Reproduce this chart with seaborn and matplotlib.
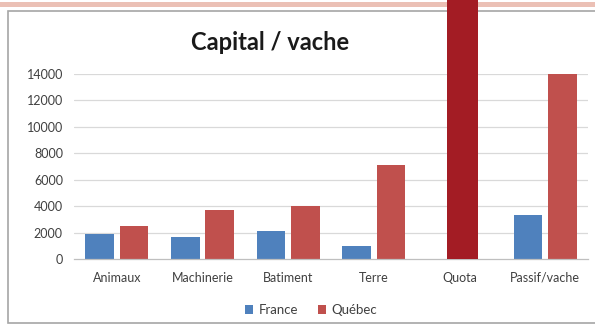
import matplotlib
matplotlib.use("Agg")
import matplotlib.pyplot as plt
from matplotlib.patches import Rectangle, Patch
import seaborn as sns
import pandas as pd

categories = ["Animaux", "Machinerie", "Batiment", "Terre", "Quota", "Passif/vache"]
france = [1900, 1650, 2100, 1000, 0, 3350]
quebec = [2500, 3700, 4000, 7100, 0, 14000]
quota_highlight = 40000  # dark red bar over "Quota", runs off the chart
yticks = [0, 2000, 4000, 6000, 8000, 10000, 12000, 14000]
series = ["France", "Québec"]
colors = {"France": "#4F81BD", "Québec": "#C0504D"}

df = pd.DataFrame({
    "cat": categories * 2,
    "val": france + quebec,
    "serie": ["France"] * len(categories) + ["Québec"] * len(categories),
})

sns.set_theme(style="white")
plt.rcParams["font.family"] = ["Lato", "DejaVu Sans"]

W, H = 595, 328
fig = plt.figure(figsize=(W / 100, H / 100), dpi=100)
fig.patch.set_facecolor("white")

# decorative band + chart frame
fig.patches.append(Rectangle((0, 1 - 7 / H), 1, 5 / H, transform=fig.transFigure,
                             facecolor="#EBC0B5", edgecolor="none", zorder=-2))
fig.patches.append(Rectangle((8 / W, 1 - 323 / H), 1.2, (323 - 11) / H, transform=fig.transFigure,
                             facecolor="white", edgecolor="#A6A6A6", lw=1.2, zorder=-1))

ax = fig.add_axes([74 / W, 69 / H, 514 / W, 185 / H])
ax.set_zorder(1)
ax.patch.set_alpha(0)

sns.barplot(data=df, x="cat", y="val", hue="serie", palette=colors, order=categories,
            hue_order=series, width=0.8, gap=0.17, saturation=1, ax=ax, legend=False,
            errorbar=None)
for p in ax.patches:
    p.set_linewidth(0)
    p.set_edgecolor("none")

# highlighted quota bar
qi = categories.index("Quota")
ax.bar([qi + 0.035], [quota_highlight], width=0.36, color="#A31C24", linewidth=0,
       clip_on=False, zorder=5)

ax.set_xlim(-0.5, len(categories) - 0.5)
ax.set_ylim(0, 14000)
ax.set_yticks(yticks)
ax.set_yticklabels([str(v) for v in yticks])
ax.set_xlabel("")
ax.set_ylabel("")
for v in yticks[1:]:
    ax.axhline(v, color="#D9D9D9", lw=0.9, zorder=0)
for s in ["top", "right", "left"]:
    ax.spines[s].set_visible(False)
ax.spines["bottom"].set_color("#BFBFBF")
ax.spines["bottom"].set_linewidth(0.9)
ax.tick_params(axis="y", length=0, pad=8, labelsize=9, labelcolor="#404040")
ax.tick_params(axis="x", length=0, pad=9, labelsize=9, labelcolor="#404040")

fig.text(270 / W, 1 - 43 / H, "Capital / vache", ha="center", va="center",
         fontsize=17, fontweight="bold", color="#1a1a1a")

handles = [Patch(facecolor=colors[s], edgecolor="none") for s in series]
fig.legend(handles, series, loc="center", bbox_to_anchor=(311 / W, 1 - 310 / H), ncol=2,
           frameon=False, fontsize=9.5, handlelength=0.6, handleheight=0.6,
           handletextpad=0.4, columnspacing=1.5, labelcolor="#404040")

fig.savefig("out.png", dpi=100)
